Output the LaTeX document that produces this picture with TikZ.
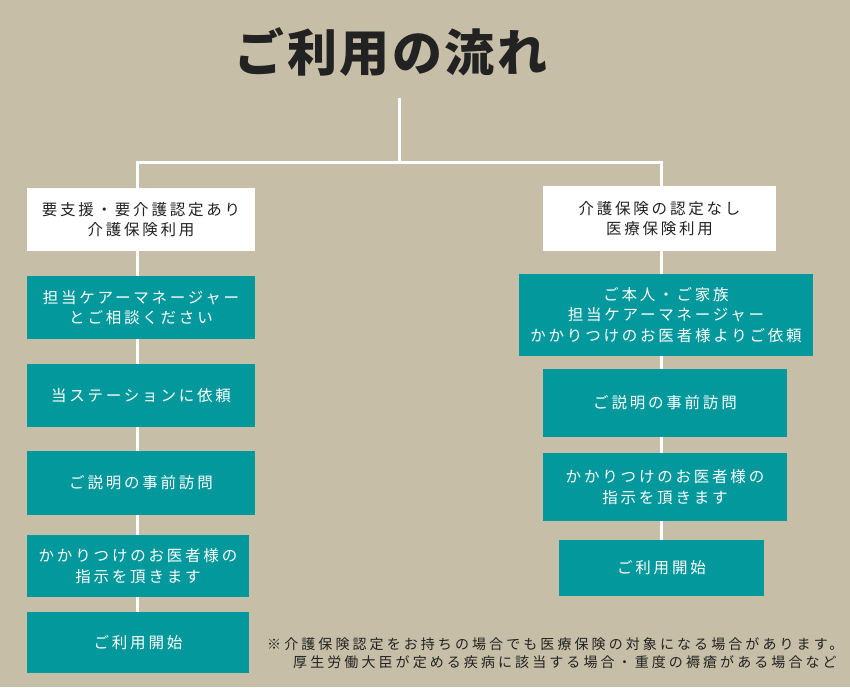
\documentclass[tikz,border=0pt]{standalone}
\usepackage{fontspec}
\newfontfamily\jpbox[LetterSpace=18]{Noto Sans CJK JP}
\newfontfamily\jpnote[LetterSpace=22]{Noto Sans CJK JP}
\newfontfamily\jptitle[LetterSpace=5]{Noto Sans CJK JP}
\definecolor{bgc}{HTML}{C6BEA6}
\definecolor{tealc}{HTML}{03989C}
\definecolor{inkc}{HTML}{222222}
\tikzset{
  basebox/.style={inner sep=0pt, align=center, font=\jpbox\fontsize{15.5}{20.5}\selectfont},
  whitebox/.style={basebox, fill=white, text=inkc},
  tealbox/.style={basebox, fill=tealc, text=white},
  link/.style={draw=white, line width=3pt},
  notetext/.style={anchor=west, inner sep=0pt, text=inkc, font=\jpnote\fontsize{14}{17}\selectfont}
}
\begin{document}
\begin{tikzpicture}[x=1pt,y=-1pt]
\fill[bgc] (0,0) rectangle (850,687);
\useasboundingbox (0,0) rectangle (850,687);
\node[text=inkc, font=\jptitle\bfseries\fontsize{50}{56}\selectfont, inner sep=0pt] (title) at (391,52) {ご利用の流れ};
% hub coordinates
\coordinate (top) at (399,98);
\coordinate (hub) at (399,163);
\coordinate (lx) at (137,163);
\coordinate (rx) at (661,163);
% left column
\node[whitebox, minimum width=228pt, minimum height=63pt] (L0) at (141,219.5) {要支援・要介護認定あり\\介護保険利用};
\node[tealbox, minimum width=228pt, minimum height=63pt] (L1) at (141,307.5) {担当ケアーマネージャー\\とご相談ください};
\node[tealbox, minimum width=228pt, minimum height=63pt] (L2) at (141,395.5) {当ステーションに依頼};
\node[tealbox, minimum width=228pt, minimum height=64pt] (L3) at (141,483) {ご説明の事前訪問};
\node[tealbox, minimum width=222pt, minimum height=62pt] (L4) at (138,566) {かかりつけのお医者様の\\指示を頂きます};
\node[tealbox, minimum width=222pt, minimum height=61pt] (L5) at (138,642.5) {ご利用開始};
% right column
\node[whitebox, minimum width=233pt, minimum height=65pt] (R0) at (659.5,218.5) {介護保険の認定なし\\医療保険利用};
\node[tealbox, minimum width=294pt, minimum height=82pt] (R1) at (666,315) {ご本人・ご家族\\担当ケアーマネージャー\\かかりつけのお医者様よりご依頼};
\node[tealbox, minimum width=244pt, minimum height=68pt] (R2) at (665,403) {ご説明の事前訪問};
\node[tealbox, minimum width=244pt, minimum height=68pt] (R3) at (665,487) {かかりつけのお医者様の\\指示を頂きます};
\node[tealbox, minimum width=205pt, minimum height=56pt] (R4) at (661.5,568) {ご利用開始};
% connectors
\begin{scope}[on background layer/.style={}]
\draw[link] (top) -- (hub);
\draw[link, line cap=rect] (lx) -- (rx);
\draw[link] (lx) -- (L0.north -| lx);
\draw[link] (rx) -- (R0.north -| rx);
\draw[link] (L0.south -| lx) -- (L1.north -| lx);
\draw[link] (L1.south -| lx) -- (L2.north -| lx);
\draw[link] (L2.south -| lx) -- (L3.north -| lx);
\draw[link] (L3.south -| lx) -- (L4.north -| lx);
\draw[link] (L4.south -| lx) -- (L5.north -| lx);
\draw[link] (R0.south -| rx) -- (R1.north -| rx);
\draw[link] (R1.south -| rx) -- (R2.north -| rx);
\draw[link] (R2.south -| rx) -- (R3.north -| rx);
\draw[link] (R3.south -| rx) -- (R4.north -| rx);
\end{scope}
% footnote
\node[notetext] (note1) at (267,644) {※介護保険認定をお持ちの場合でも医療保険の対象になる場合があります。};
\node[notetext] (note2) at (293,662) {厚生労働大臣が定める疾病に該当する場合・重度の褥瘡がある場合など};
\end{tikzpicture}
\end{document}
